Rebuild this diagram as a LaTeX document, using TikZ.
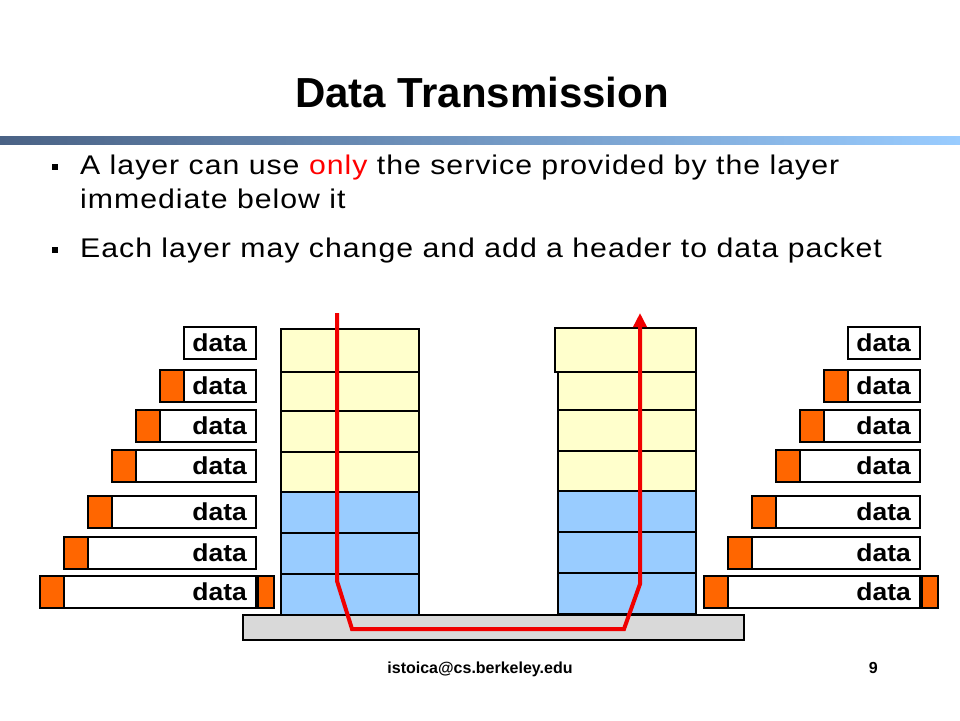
\documentclass[tikz,border=0pt]{standalone}
\usepackage{fontspec}
\setmainfont{Liberation Sans}
\newfontfamily\bodyfont[FakeStretch=1.12,LetterSpace=3.7]{Liberation Sans}
\newfontfamily\pktfont[FakeStretch=1.08]{Liberation Sans}
\usetikzlibrary{arrows.meta}
\definecolor{barL}{HTML}{4A6285}
\definecolor{barR}{HTML}{99CCFF}
\definecolor{upper}{HTML}{FFFFCC}
\definecolor{lower}{HTML}{99CCFF}
\definecolor{hdrorange}{HTML}{FF6600}
\definecolor{netgray}{HTML}{D9D9D9}
\definecolor{routered}{HTML}{F00000}

\begin{document}
\begin{tikzpicture}[x=1pt,y=-1pt,
 cell/.style={draw,line width=2pt,minimum width=138pt,minimum height=40.86pt,inner sep=0pt},
 pkt/.style={draw,line width=2pt,fill=white,minimum height=32pt,inner sep=0pt},
 hdr/.style={draw,line width=2pt,fill=hdrorange,minimum width=24pt,minimum height=32pt,inner sep=0pt},
 lbl/.style={anchor=east,inner sep=0pt,font=\pktfont\bfseries\fontsize{24.5}{28}\selectfont},
 bullet/.style={anchor=base west,inner sep=0pt,font=\bodyfont\fontsize{27}{32}\selectfont},
 dot/.style={fill=black,inner sep=0pt,minimum size=6pt},
 route/.style={routered,line width=4pt}
 ]
 \fill[white] (0,0) rectangle (960,720);
 \useasboundingbox (0,0) rectangle (960,720);

 \node[anchor=base,inner sep=0pt,font=\bfseries\fontsize{42}{50}\selectfont]
 (title) at (482,107) {Data Transmission};
 \shade[left color=barL,right color=barR] (0,136) rectangle (960,144);

 \node[dot] (d1) at (54.5,167) {};
 \node[bullet] (b1) at (80,174) {A layer can use \textcolor{red}{only} the service provided by the layer};
 \node[bullet] (b1b) at (80,208) {immediate below it};
 \node[dot] (d2) at (54.5,250) {};
 \node[bullet] (b2) at (80,257) {Each layer may change and add a header to data packet};

 \node[draw,line width=2pt,fill=netgray,minimum width=501pt,minimum height=25pt,inner sep=0pt]
 (net) at (493.5,627.5) {};

 \node[cell,fill=lower] (sl1) at (350,594.57) {};
 \node[cell,fill=lower] (sl2) at (350,553.71) {};
 \node[cell,fill=lower] (sl3) at (350,512.86) {};
 \node[cell,fill=upper] (sl4) at (350,472) {};
 \node[cell,fill=upper] (sl5) at (350,431.14) {};
 \node[cell,fill=upper] (sl6) at (350,390.29) {};
 \node[cell,fill=upper,minimum height=43pt] (sl7) at (350,350.5) {};

 \node[cell,fill=lower] (sr1) at (626.5,593.57) {};
 \node[cell,fill=lower] (sr2) at (626.5,552.71) {};
 \node[cell,fill=lower] (sr3) at (626.5,511.86) {};
 \node[cell,fill=upper] (sr4) at (626.5,471) {};
 \node[cell,fill=upper] (sr5) at (626.5,430.14) {};
 \node[cell,fill=upper] (sr6) at (626.5,389.29) {};
 \node[cell,fill=upper,minimum width=141pt,minimum height=44pt] (sr7) at (625.5,350) {};

 \node[pkt,minimum width=72pt] (pl1) at (220,343) {};
 \node[pkt,minimum width=96pt] (pl2) at (208,386) {};
 \node[pkt,minimum width=120pt] (pl3) at (196,426) {};
 \node[pkt,minimum width=144pt] (pl4) at (184,466) {};
 \node[pkt,minimum width=168pt] (pl5) at (172,512) {};
 \node[pkt,minimum width=192pt] (pl6) at (160,553) {};
 \node[pkt,minimum width=216pt] (pl7) at (148,591.5) {};
 \node[hdr,anchor=west] (hl2) at (pl2.west) {};
 \node[hdr,anchor=west] (hl3) at (pl3.west) {};
 \node[hdr,anchor=west] (hl4) at (pl4.west) {};
 \node[hdr,anchor=west] (hl5) at (pl5.west) {};
 \node[hdr,anchor=west] (hl6) at (pl6.west) {};
 \node[hdr,anchor=west] (hl7) at (pl7.west) {};
 \node[hdr,anchor=west,minimum width=16pt] (ql7) at (pl7.east) {};
 \node[lbl] (tl1) at ([xshift=-10pt]pl1.east) {data};
 \node[lbl] (tl2) at ([xshift=-10pt]pl2.east) {data};
 \node[lbl] (tl3) at ([xshift=-10pt]pl3.east) {data};
 \node[lbl] (tl4) at ([xshift=-10pt]pl4.east) {data};
 \node[lbl] (tl5) at ([xshift=-10pt]pl5.east) {data};
 \node[lbl] (tl6) at ([xshift=-10pt]pl6.east) {data};
 \node[lbl] (tl7) at ([xshift=-10pt]pl7.east) {data};

 \node[pkt,minimum width=72pt] (pr1) at (884,343) {};
 \node[pkt,minimum width=96pt] (pr2) at (872,386) {};
 \node[pkt,minimum width=120pt] (pr3) at (860,426) {};
 \node[pkt,minimum width=144pt] (pr4) at (848,466) {};
 \node[pkt,minimum width=168pt] (pr5) at (836,512) {};
 \node[pkt,minimum width=192pt] (pr6) at (824,553) {};
 \node[pkt,minimum width=216pt] (pr7) at (812,591.5) {};
 \node[hdr,anchor=west] (hr2) at (pr2.west) {};
 \node[hdr,anchor=west] (hr3) at (pr3.west) {};
 \node[hdr,anchor=west] (hr4) at (pr4.west) {};
 \node[hdr,anchor=west] (hr5) at (pr5.west) {};
 \node[hdr,anchor=west] (hr6) at (pr6.west) {};
 \node[hdr,anchor=west] (hr7) at (pr7.west) {};
 \node[hdr,anchor=west,minimum width=16pt] (qr7) at (pr7.east) {};
 \node[lbl] (tr1) at ([xshift=-10pt]pr1.east) {data};
 \node[lbl] (tr2) at ([xshift=-10pt]pr2.east) {data};
 \node[lbl] (tr3) at ([xshift=-10pt]pr3.east) {data};
 \node[lbl] (tr4) at ([xshift=-10pt]pr4.east) {data};
 \node[lbl] (tr5) at ([xshift=-10pt]pr5.east) {data};
 \node[lbl] (tr6) at ([xshift=-10pt]pr6.east) {data};
 \node[lbl] (tr7) at ([xshift=-10pt]pr7.east) {data};

 \coordinate (a0) at (337,313);
 \coordinate (a1) at (337,581);
 \coordinate (a2) at (352,629);
 \coordinate (a3) at (624,629);
 \coordinate (a4) at (640,584);
 \coordinate (a5) at (640,313);
 \draw[route,-{Triangle[length=14pt,width=13pt]}]
 (a0) -- (a1) -- (a2) -- (a3) -- (a4) -- (a5)
 ;

 \node[anchor=base,inner sep=0pt,font=\bfseries\fontsize{16}{19}\selectfont]
 (mail) at (480,673) {istoica@cs.berkeley.edu};
 \node[anchor=base east,inner sep=0pt,font=\bfseries\fontsize{16}{19}\selectfont]
 (page) at (878,673) {9};
\end{tikzpicture}
\end{document}
